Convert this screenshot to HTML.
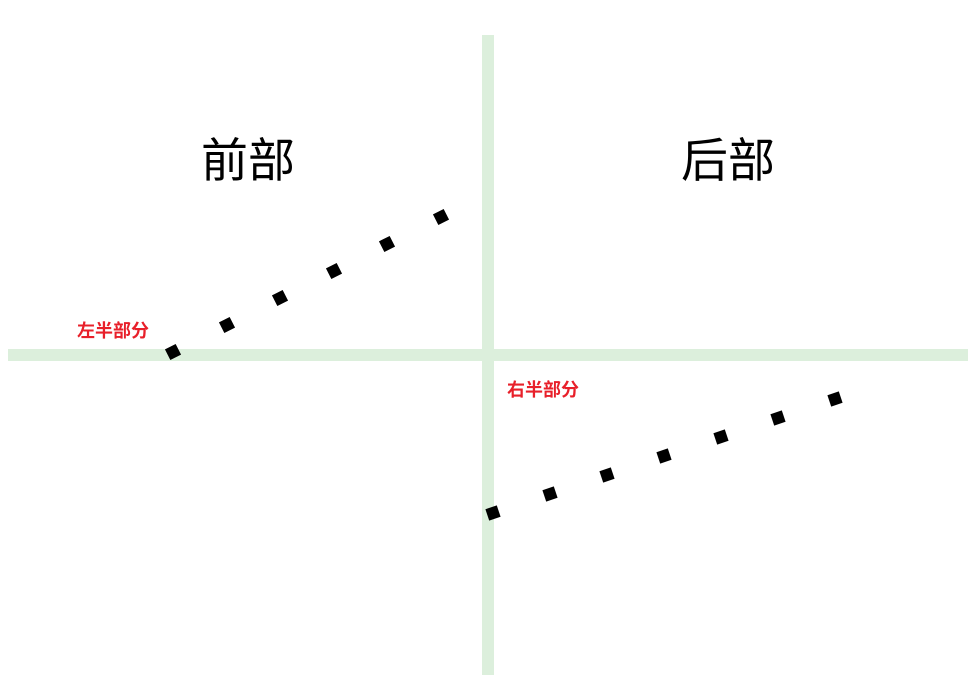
<!DOCTYPE html>
<html><head><meta charset="utf-8"><style>
html,body{margin:0;padding:0;background:#fff;}
svg{display:block;}
text{font-family:"Liberation Sans","Noto Sans CJK SC",sans-serif;}
</style></head><body>
<svg width="980" height="690" viewBox="0 0 980 690">
<rect x="482" y="35" width="12" height="640" fill="#dcefdc"/>
<rect x="8" y="349" width="960" height="12" fill="#dcefdc"/>
<text x="248" y="177" font-size="47" text-anchor="middle" fill="#000">前部</text>
<text x="728" y="177" font-size="47" text-anchor="middle" fill="#000">后部</text>
<text x="77" y="337" font-size="18" font-weight="bold" fill="#e8202a">左半部分</text>
<text x="507" y="396" font-size="18" font-weight="bold" fill="#e8202a">右半部分</text>
<g id="marks"></g>
</svg>
<script>
// data in diagram units: origin at divider crossing, y up
const leftX = [-315, -261, -208, -154, -101, -47];
const leftY = [3, 30, 57, 84, 111, 138];
const rightX = [5, 62, 119, 176, 233, 290, 347];
const rightY = [-158, -139, -120, -101, -82, -63, -44];
const ox = 488, oy = 355;
function sx(v){ return ox + v; }
function sy(v){ return oy - v; }
const g = document.getElementById('marks');
const NS = 'http://www.w3.org/2000/svg';
function drawSeries(xs, ys, name){
  const n = xs.length;
  const ang = Math.atan2(-(ys[n-1]-ys[0]), xs[n-1]-xs[0]) * 180 / Math.PI;
  for (let i = 0; i < n; i++) {
    const r = document.createElementNS(NS, 'rect');
    const cx = sx(xs[i]), cy = sy(ys[i]);
    r.setAttribute('x', cx - 6);
    r.setAttribute('y', cy - 6);
    r.setAttribute('width', 12);
    r.setAttribute('height', 12);
    r.setAttribute('fill', '#000');
    r.setAttribute('transform', 'rotate(' + ang + ' ' + cx + ' ' + cy + ')');
    
    
    g.appendChild(r);
  }
}
drawSeries(leftX, leftY, 'left-dotted-line');
drawSeries(rightX, rightY, 'right-dotted-line');
</script>
</body></html>
